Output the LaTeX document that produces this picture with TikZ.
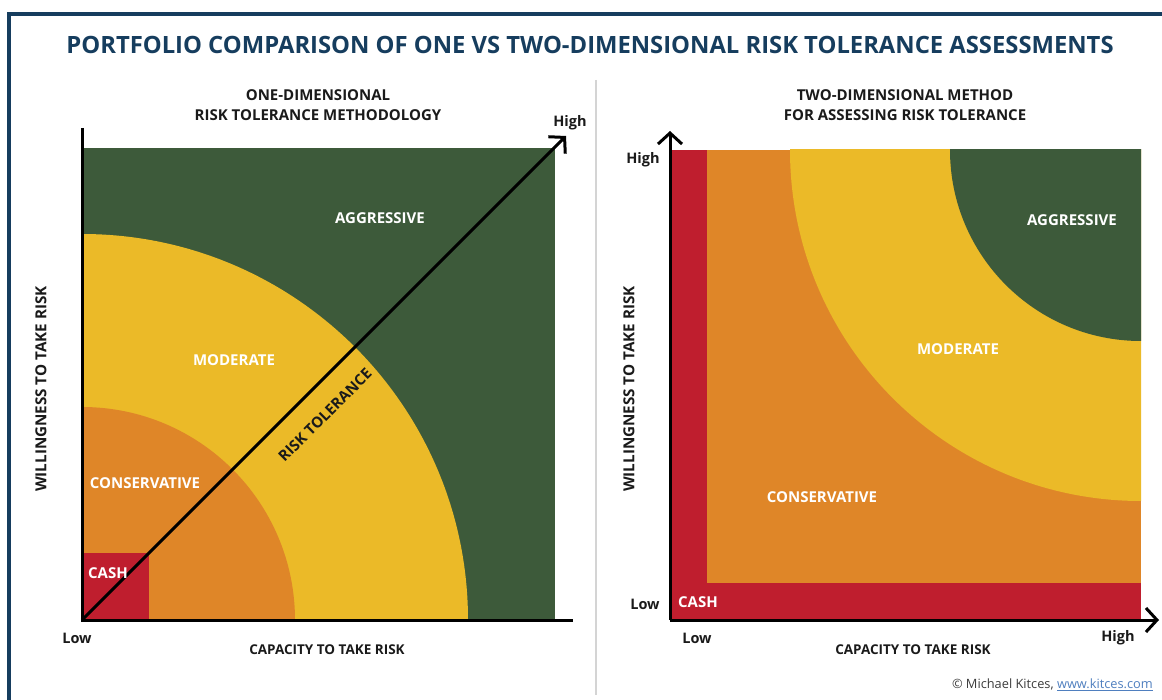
\documentclass[tikz,border=0pt]{standalone}
\usepackage{fontspec}
\setmainfont{Open Sans}
\usetikzlibrary{arrows.meta}

\definecolor{navy}{HTML}{163D5E}
\definecolor{zgreen}{HTML}{3D5A3A}
\definecolor{zyellow}{HTML}{EBBA28}
\definecolor{zorange}{HTML}{DF8628}
\definecolor{zred}{HTML}{BF1E2E}
\definecolor{ink}{HTML}{1A1A1A}
\definecolor{divider}{HTML}{D4D4D4}
\definecolor{linkblue}{HTML}{4F7FBF}

\newcommand{\fs}[1]{\fontsize{#1}{#1}\selectfont}

\tikzset{
  zone/.style={font=\bfseries\fs{15}, text=white, inner sep=0pt},
  axislabel/.style={font=\bfseries\fs{13.5}, text=ink, inner sep=0pt},
  sidelabel/.style={font=\bfseries\fs{15.2}, text=ink, inner sep=0pt, rotate=90},
  endlabel/.style={font=\bfseries\fs{14.5}, text=ink, inner sep=0pt},
  subtitle/.style={font=\bfseries\fs{15}, text=ink, align=center, inner sep=0pt},
  axisline/.style={line width=3pt, draw=black},
  chevron/.style={-{Straight Barb[length=11pt,width=24pt,line width=3pt]}},
}

\begin{document}
\begin{tikzpicture}[x=1pt,y=-1pt]
\useasboundingbox (0,0) rectangle (1162,700);
\fill[white] (0,0) rectangle (1162,700);

% outer frame (top and left edges)
\draw[navy, line width=4.5pt] (9,700) -- (9,14) -- (1162,14);

% title
\node[font=\bfseries\fs{23.8}, text=navy, inner sep=0pt] (title) at (590,45)
  {PORTFOLIO COMPARISON OF ONE VS TWO-DIMENSIONAL RISK TOLERANCE ASSESSMENTS};

% divider between the two panels
\draw[divider, line width=1.5pt] (596,80) -- (596,695);

% ---------------- one-dimensional panel ----------------
\node[subtitle, text height=10.5pt] (sub1a) at (318,95) {ONE-DIMENSIONAL};
\node[subtitle, text height=10.5pt] (sub1b) at (318,115) {RISK TOLERANCE METHODOLOGY};

\coordinate (O1) at (82,620);
\begin{scope}
  \clip (82,148) rectangle (555,620);
  \fill[zgreen] (82,148) rectangle (555,620);
  \fill[zyellow] (O1) circle (386);
  \fill[zorange] (O1) circle (213);
  \fill[zred] (82,553) rectangle (149,620);
\end{scope}

\coordinate (y1top) at (82,128);
\coordinate (x1end) at (573,620);
\coordinate (diagtip) at (566,136);
\draw[axisline] (y1top) -- (O1) -- (x1end);
\draw[axisline, chevron] (O1) -- (diagtip);

\node[zone] (agg1) at (380,218) {AGGRESSIVE};
\node[zone] (mod1) at (234,360) {MODERATE};
\node[zone] (con1) at (145,483) {CONSERVATIVE};
\node[zone] (cash1) at (108,573) {CASH};
\node[font=\bfseries\fs{15}, text=ink, inner sep=0pt, rotate=45] (rt) at (325,415) {RISK TOLERANCE};

\node[endlabel] (high1) at (570,123) {High};
\node[endlabel] (low1) at (77,638) {Low};
\node[axislabel] (cap1) at (327,650) {CAPACITY TO TAKE RISK};
\node[sidelabel] (will1) at (41,389) {WILLINGNESS TO TAKE RISK};

% ---------------- two-dimensional panel ----------------
\node[subtitle, text height=10.5pt] (sub2a) at (905,95) {TWO-DIMENSIONAL METHOD};
\node[subtitle, text height=10.5pt] (sub2b) at (905,115) {FOR ASSESSING RISK TOLERANCE};

\coordinate (O2) at (670,620);
\coordinate (TR) at (1141,150);
\begin{scope}
  \clip (670,150) rectangle (1141,620);
  \fill[zred] (670,150) rectangle (1141,620);
  \fill[zorange] (707,150) rectangle (1141,583);
  \fill[zyellow] (TR) circle (351);
  \fill[zgreen] (TR) circle (191);
\end{scope}

\coordinate (y2top) at (670,131);
\coordinate (x2end) at (1159,620);
\draw[axisline, chevron] (O2) -- (y2top);
\draw[axisline, chevron] (O2) -- (x2end);

\node[zone] (agg2) at (1072,220) {AGGRESSIVE};
\node[zone] (mod2) at (958,349) {MODERATE};
\node[zone] (con2) at (822,497) {CONSERVATIVE};
\node[zone] (cash2) at (698,602) {CASH};

\node[endlabel] (high2y) at (643,160) {High};
\node[endlabel] (low2y) at (645,604) {Low};
\node[endlabel] (low2x) at (697,638) {Low};
\node[endlabel] (high2x) at (1118,638) {High};
\node[axislabel] (cap2) at (913,650) {CAPACITY TO TAKE RISK};
\node[sidelabel] (will2) at (629,389) {WILLINGNESS TO TAKE RISK};

% credit line
\node[anchor=east, inner sep=0pt, font=\fs{12.8}, text=ink!85] (credit) at (1153,685)
  {\textcopyright{} Michael Kitces, \textcolor{linkblue}{\underline{www.kitces.com}}};
\end{tikzpicture}
\end{document}
